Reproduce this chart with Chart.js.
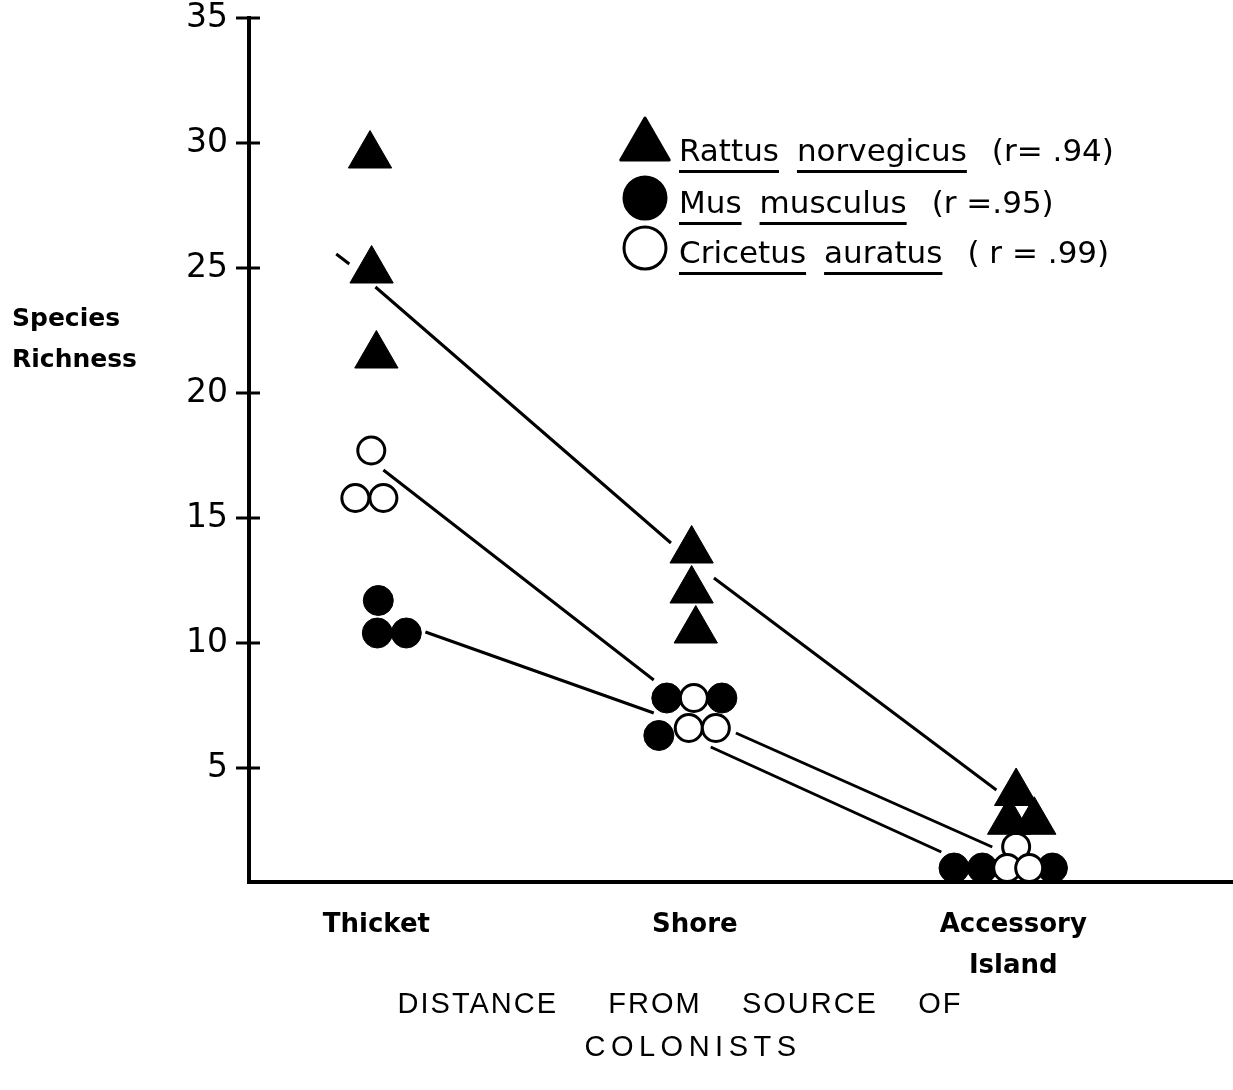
<!DOCTYPE html>
<html>
<head>
<meta charset="utf-8">
<script src="https://cdn.jsdelivr.net/npm/chart.js@4.4.1/dist/chart.umd.min.js"></script>
<style>
  html, body { margin: 0; padding: 0; background: #fff; }
  #chart { display: block; }
</style>
</head>
<body>
<canvas id="chart" width="1233" height="1090"></canvas>
<script>
// sites on the x axis, placed at 1, 2, 3
const sites = ['Thicket', 'Shore', ['Accessory', 'Island']];
const sitePos = [1, 2, 3];
const yTicks = [5, 10, 15, 20, 25, 30, 35];

// Rattus norvegicus (filled triangles)
const rattusX = [0.98, 0.985, 1.0, 1.99, 1.99, 2.003, 3.009, 2.987, 3.066];
const rattusY = [29.5, 24.9, 21.5, 13.7, 12.1, 10.5, 4.0, 2.85, 2.85];

// Mus musculus (filled circles)
const musX = [1.006, 1.003, 1.094, 1.912, 2.085, 1.887, 2.814, 2.903, 3.123];
const musY = [11.7, 10.4, 10.4, 7.8, 7.8, 6.3, 1.0, 1.0, 1.0];

// Cricetus auratus (open circles)
const criX = [0.984, 0.934, 1.022, 1.997, 1.981, 2.066, 3.009, 2.981, 3.05];
const criY = [17.7, 15.8, 15.8, 7.8, 6.6, 6.6, 1.85, 1.0, 1.0];

// connecting lines, broken where they pass the markers (null = gap)
const rattusLineX = [0.874, 0.915, null, 0.997, 1.925, null, 2.06, 2.947];
const rattusLineY = [25.56, 25.16, null, 24.24, 14.0, null, 12.6, 4.12];
const musLineX = [1.154, 1.871, null, 2.05, 2.774];
const musLineY = [10.44, 7.2, null, 5.84, 1.64];
const criLineX = [1.022, 1.871, null, 2.129, 2.934];
const criLineY = [16.92, 8.52, null, 6.4, 1.84];

// legend
const legendGenus = ['Rattus', 'Mus', 'Cricetus'];
const legendSpecies = ['norvegicus', 'musculus', 'auratus'];
const legendR = ['(r= .94)', '(r =.95)', '( r = .99)'];

function pts(xs, ys) {
  return xs.map((x, i) => (x === null ? { x: null, y: null } : { x: x, y: ys[i] }));
}

function lineSet(xs, ys) {
  return {
    type: 'line',
    data: pts(xs, ys),
    borderColor: '#000',
    borderWidth: 3,
    pointRadius: 0,
    spanGaps: false,
    fill: false,
    clip: false,
    order: 5
  };
}

function noPad(scale) {
  scale.paddingTop = 0;
  scale.paddingBottom = 0;
  scale.paddingLeft = 0;
  scale.paddingRight = 0;
}

// legend, axis crosses, y label and x title
const extras = {
  id: 'extras',
  afterDraw(chart) {
    const ctx = chart.ctx;
    const y = chart.scales.y;
    const area = chart.chartArea;
    ctx.save();
    ctx.fillStyle = '#000';
    ctx.strokeStyle = '#000';

    // tick crosses on the y axis
    ctx.lineWidth = 3;
    yTicks.forEach(v => {
      const py = y.getPixelForValue(v);
      ctx.beginPath();
      ctx.moveTo(area.left - 13, py);
      ctx.lineTo(area.left + 11, py);
      ctx.stroke();
    });

    // y label, horizontal
    ctx.font = 'bold 25px "DejaVu Sans"';
    ctx.textAlign = 'left';
    ctx.textBaseline = 'alphabetic';
    ctx.fillText('Species', 12, 326);
    ctx.fillText('Richness', 12, 367);

    // x title
    ctx.font = '29px "Liberation Sans"';
    ctx.textAlign = 'center';
    ctx.letterSpacing = '2px';
    ctx.fillText('DISTANCE     FROM    SOURCE    OF', 680, 1013);
    ctx.letterSpacing = '5.5px';
    ctx.fillText('COLONISTS', 693, 1056);
    ctx.letterSpacing = '0px';

    // legend
    const rowY = [146, 198, 248];
    const iconX = 645;
    const textX = 679;
    ctx.font = '31px "DejaVu Sans"';
    ctx.textAlign = 'left';
    for (let i = 0; i < 3; i++) {
      const cy = rowY[i];
      ctx.lineWidth = 3;
      if (i === 0) {
        const r = 28;
        ctx.beginPath();
        ctx.moveTo(iconX, cy - r);
        ctx.lineTo(iconX + r * 0.866, cy + r / 2);
        ctx.lineTo(iconX - r * 0.866, cy + r / 2);
        ctx.closePath();
        ctx.lineJoin = 'round';
        ctx.fill();
        ctx.stroke();
      } else {
        ctx.beginPath();
        ctx.arc(iconX, cy, 21, 0, Math.PI * 2);
        if (i === 1) ctx.fill();
        else { ctx.fillStyle = '#fff'; ctx.fill(); ctx.fillStyle = '#000'; }
        ctx.stroke();
      }
      const base = cy + 15;
      let x = textX;
      const gw = ctx.measureText(legendGenus[i]).width;
      ctx.fillText(legendGenus[i], x, base);
      ctx.fillRect(x, base + 9, gw, 3);
      x += gw + 18;
      const sw = ctx.measureText(legendSpecies[i]).width;
      ctx.fillText(legendSpecies[i], x, base);
      ctx.fillRect(x, base + 9, sw, 3);
      x += sw + 25;
      ctx.fillText(legendR[i], x, base);
    }
    ctx.restore();
  }
};

new Chart(document.getElementById('chart'), {
  type: 'scatter',
  data: {
    datasets: [
      {
        label: 'Rattus norvegicus',
        data: pts(rattusX, rattusY),
        pointStyle: 'triangle',
        pointRadius: 25,
        backgroundColor: '#000',
        borderColor: '#000',
        borderWidth: 1,
        clip: false,
        order: 1
      },
      {
        label: 'Mus musculus',
        data: pts(musX, musY),
        pointStyle: 'circle',
        pointRadius: 15,
        backgroundColor: '#000',
        borderColor: '#000',
        borderWidth: 1,
        clip: false,
        order: 2
      },
      {
        label: 'Cricetus auratus',
        data: pts(criX, criY),
        pointStyle: 'circle',
        pointRadius: 13.5,
        backgroundColor: '#fff',
        borderColor: '#000',
        borderWidth: 3,
        clip: false,
        order: 1
      },
      lineSet(rattusLineX, rattusLineY),
      lineSet(musLineX, musLineY),
      lineSet(criLineX, criLineY)
    ]
  },
  options: {
    responsive: false,
    animation: false,
    layout: { autoPadding: false, padding: { top: 18, right: 0, left: 0, bottom: 0 } },
    plugins: { legend: { display: false }, tooltip: { enabled: false } },
    scales: {
      x: {
        type: 'linear',
        min: 0.6,
        max: 3.69,
        afterFit(scale) { scale.height = 208; noPad(scale); },
        afterBuildTicks(scale) { scale.ticks = sitePos.map(v => ({ value: v })); },
        border: { display: true, color: '#000', width: 4 },
        grid: { display: false, drawTicks: false },
        ticks: {
          color: '#000',
          padding: 22,
          maxRotation: 0,
          autoSkip: false,
          font: { family: 'DejaVu Sans', size: 26, weight: 'bold', lineHeight: 1.6 },
          callback: v => sites[sitePos.indexOf(v)]
        }
      },
      y: {
        type: 'linear',
        min: 0.44,
        max: 35,
        afterFit(scale) { scale.width = 249; noPad(scale); },
        afterBuildTicks(scale) { scale.ticks = yTicks.map(v => ({ value: v })); },
        border: { display: true, color: '#000', width: 4 },
        grid: { display: false, drawTicks: false },
        ticks: {
          color: '#000',
          padding: 21,
          font: { family: 'DejaVu Sans', size: 33 }
        }
      }
    }
  },
  plugins: [extras]
});
</script>
</body>
</html>
